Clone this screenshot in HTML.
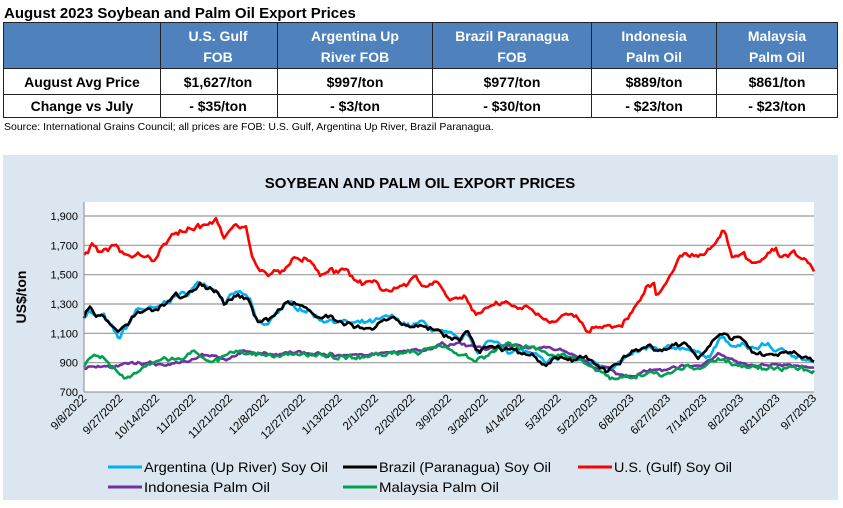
<!DOCTYPE html>
<html><head><meta charset="utf-8"><style>
body{margin:0;background:#fff;width:843px;height:503px;overflow:hidden;font-family:"Liberation Sans",sans-serif}
</style></head><body>
<svg id="s" width="843" height="503" xmlns="http://www.w3.org/2000/svg" font-family="Liberation Sans, sans-serif">
<text x="4" y="18" font-size="15" font-weight="bold" fill="#000">August 2023 Soybean and Palm Oil Export Prices</text>
<rect x="3" y="22" width="835" height="46" fill="#4f81bd"/>
<g stroke="#222" stroke-width="1" fill="none">
<rect x="3.5" y="22.5" width="834" height="95"/>
<line x1="3" y1="68.5" x2="838" y2="68.5"/><line x1="3" y1="94.5" x2="838" y2="94.5"/>
<line x1="160.5" y1="22" x2="160.5" y2="118"/><line x1="277.5" y1="22" x2="277.5" y2="118"/>
<line x1="432.5" y1="22" x2="432.5" y2="118"/><line x1="591.5" y1="22" x2="591.5" y2="118"/>
<line x1="716.5" y1="22" x2="716.5" y2="118"/>
</g>
<g font-size="14" font-weight="bold" fill="#fff" text-anchor="middle">
<text x="218" y="41">U.S. Gulf</text><text x="218" y="62">FOB</text>
<text x="355" y="41">Argentina Up</text><text x="355" y="62">River FOB</text>
<text x="512" y="41">Brazil Paranagua</text><text x="512" y="62">FOB</text>
<text x="654" y="41">Indonesia</text><text x="654" y="62">Palm Oil</text>
<text x="777" y="41">Malaysia</text><text x="777" y="62">Palm Oil</text>
</g>
<g font-size="14" font-weight="bold" fill="#000" text-anchor="middle">
<text x="82" y="87">August Avg Price</text><text x="218" y="87">$1,627/ton</text><text x="355" y="87">$997/ton</text><text x="512" y="87">$977/ton</text><text x="654" y="87">$889/ton</text><text x="777" y="87">$861/ton</text>
<text x="82" y="111">Change vs July</text><text x="218" y="111">- $35/ton</text><text x="355" y="111">- $3/ton</text><text x="512" y="111">- $30/ton</text><text x="654" y="111">- $23/ton</text><text x="777" y="111">- $23/ton</text>
</g>
<text x="4" y="130" font-size="10.5" fill="#000">Source: International Grains Council; all prices are FOB: U.S. Gulf, Argentina Up River, Brazil Paranagua.</text>
<rect x="3" y="155" width="835" height="345" fill="#dce6f1"/>
<text x="420" y="188" font-size="15" font-weight="bold" text-anchor="middle" fill="#000">SOYBEAN AND PALM OIL EXPORT PRICES</text>
<rect x="84" y="202" width="730" height="190" fill="#fff"/>
<g id="grid" stroke="#999" stroke-width="1.2"></g>
<g id="yl" font-size="11" text-anchor="end" fill="#000"></g>
<text transform="translate(26,297) rotate(-90)" font-size="14" font-weight="bold" text-anchor="middle">US$/ton</text>
<g id="series" fill="none" stroke-width="2.6" stroke-linejoin="round"></g>
<line x1="84" y1="202" x2="84" y2="392" stroke="#888"/>
<line x1="84" y1="392" x2="814" y2="392" stroke="#888"/>
<g id="xl" font-size="11.5" text-anchor="end" fill="#000"></g>
<g font-size="14" fill="#000">
<line x1="108" y1="467" x2="142" y2="467" stroke="#00b0f0" stroke-width="3"/><text x="144" y="472" textLength="184" lengthAdjust="spacingAndGlyphs">Argentina (Up River) Soy Oil</text>
<line x1="343" y1="467" x2="377" y2="467" stroke="#000" stroke-width="3"/><text x="379" y="472" textLength="172" lengthAdjust="spacingAndGlyphs">Brazil (Paranagua) Soy Oil</text>
<line x1="578" y1="467" x2="612" y2="467" stroke="#ff0000" stroke-width="3"/><text x="614" y="472" textLength="118" lengthAdjust="spacingAndGlyphs">U.S. (Gulf) Soy Oil</text>
<line x1="108" y1="487" x2="142" y2="487" stroke="#7030a0" stroke-width="3"/><text x="144" y="492" textLength="126" lengthAdjust="spacingAndGlyphs">Indonesia Palm Oil</text>
<line x1="343" y1="487" x2="377" y2="487" stroke="#00a050" stroke-width="3"/><text x="379" y="492" textLength="120" lengthAdjust="spacingAndGlyphs">Malaysia Palm Oil</text>
</g>
</svg>
<script>
var NS="http://www.w3.org/2000/svg";
function el(p,t,a,txt){var e=document.createElementNS(NS,t);for(var k in a)e.setAttribute(k,a[k]);if(txt)e.textContent=txt;document.getElementById(p).appendChild(e);}
function Y(v){return 392-(v-700)*176/1200;}
for(var v=700;v<=1900;v+=200){ if(v>700) el("grid","line",{x1:84,x2:814,y1:Y(v),y2:Y(v)}); el("yl","text",{x:78,y:Y(v)+4},v>=1000?(Math.floor(v/1000)+","+String(v%1000).padStart(3,"0")):String(v));}
var lab=["9/8/2022","9/27/2022","10/14/2022","11/2/2022","11/21/2022","12/8/2022","12/27/2022","1/13/2022","2/1/2022","2/20/2022","3/9/2022","3/28/2022","4/14/2022","5/3/2022","5/22/2023","6/8/2023","6/27/2023","7/14/2023","8/2/2023","8/21/2023","9/7/2023"];
for(var i=0;i<lab.length;i++){var x=84+i*730/(lab.length-1);el("xl","text",{transform:"translate("+(x+3)+",399) rotate(-45)"},lab[i]);}
function P(s){return s.trim().split(/\s+/).map(function(p){var q=p.split(":");return [(+q[0]-155)/1351*730+84, +q[1]];});}
var red=P("155:1650 170:1700 185:1660 210:1700 230:1620 255:1650 285:1610 300:1700 330:1780 360:1830 400:1860 415:1760 435:1830 455:1820 465:1650 480:1520 500:1490 520:1530 540:1600 565:1610 595:1490 640:1520 670:1450 690:1450 705:1410 725:1410 745:1440 770:1480 790:1400 805:1450 830:1340 860:1370 880:1240 905:1300 920:1320 950:1280 970:1290 1000:1200 1015:1180 1045:1250 1075:1180 1085:1110 1100:1150 1125:1160 1135:1130 1160:1200 1180:1300 1195:1400 1210:1430 1215:1350 1240:1520 1260:1640 1275:1620 1300:1630 1320:1700 1338:1800 1355:1620 1375:1640 1390:1580 1410:1620 1435:1680 1445:1620 1465:1640 1490:1600 1506:1540");
var blk=P("155:1220 165:1290 175:1220 190:1230 220:1110 235:1170 255:1270 290:1260 320:1340 345:1360 370:1440 400:1400 415:1300 440:1370 460:1340 475:1200 495:1190 510:1250 530:1310 570:1270 590:1200 620:1200 660:1140 700:1160 720:1180 760:1140 780:1160 800:1120 830:1080 850:1050 865:1100 885:960 900:1020 920:1000 940:980 960:960 990:940 1010:880 1040:950 1060:920 1080:930 1100:900 1125:850 1145:900 1170:980 1200:1020 1220:980 1245:1020 1270:1030 1290:930 1315:1010 1335:1090 1350:1050 1370:1050 1400:950 1420:960 1440:950 1460:980 1480:950 1506:920");
var arg=P("155:1220 165:1260 175:1210 190:1220 220:1060 235:1150 255:1270 290:1260 320:1350 345:1370 370:1450 400:1410 415:1310 440:1380 460:1340 475:1170 495:1150 510:1240 530:1300 570:1260 590:1200 620:1190 660:1160 700:1180 720:1210 760:1150 780:1170 800:1130 830:1080 850:1050 865:1090 885:980 900:1030 920:1040 940:990 960:980 990:960 1010:880 1040:950 1060:930 1080:910 1100:900 1125:880 1145:900 1170:950 1200:1000 1220:970 1245:1000 1270:1010 1290:960 1315:960 1335:1080 1350:1010 1370:1010 1400:1000 1420:1030 1440:970 1460:980 1480:940 1506:890");
var pur=P("155:870 180:880 300:890 350:900 380:960 420:920 450:980 500:950 550:970 600:950 700:960 800:1000 820:1030 850:1020 900:990 950:1020 1000:990 1040:990 1080:920 1100:870 1120:870 1150:810 1170:800 1200:850 1230:840 1260:870 1300:880 1330:960 1350:920 1400:880 1450:890 1506:870");
var grn=P("155:880 170:930 200:900 230:790 260:850 300:920 340:920 360:970 400:920 440:990 480:960 520:940 560:960 610:950 660:940 720:960 780:980 820:1010 850:970 880:920 910:980 940:1010 980:1000 1020:960 1050:950 1080:900 1110:830 1140:780 1170:790 1200:850 1230:830 1270:860 1300:870 1335:930 1370:880 1400:850 1440:860 1480:860 1506:840");
var seed=1;function rnd(){seed=(seed*16807)%2147483647;return seed/2147483647-0.5;}
function draw(pts,col,amp,sd){seed=sd;var d="",w=0;for(var x=84;x<=814;x+=2){var j=0;while(j<pts.length-2&&pts[j+1][0]<x)j++;var a=pts[j],b=pts[j+1];var t=Math.max(0,Math.min(1,(x-a[0])/(b[0]-a[0])));w=w*0.7+rnd()*amp;var v=a[1]+(b[1]-a[1])*t+w+rnd()*amp*0.5;d+=(d?"L":"M")+x.toFixed(1)+","+Y(v).toFixed(1);}el("series","path",{d:d,stroke:col});}
draw(arg,"#00b0f0",28,7);draw(pur,"#7030a0",18,11);draw(grn,"#00a050",26,13);draw(blk,"#000",28,17);draw(red,"#ff0000",30,19);
</script>
</body></html>
